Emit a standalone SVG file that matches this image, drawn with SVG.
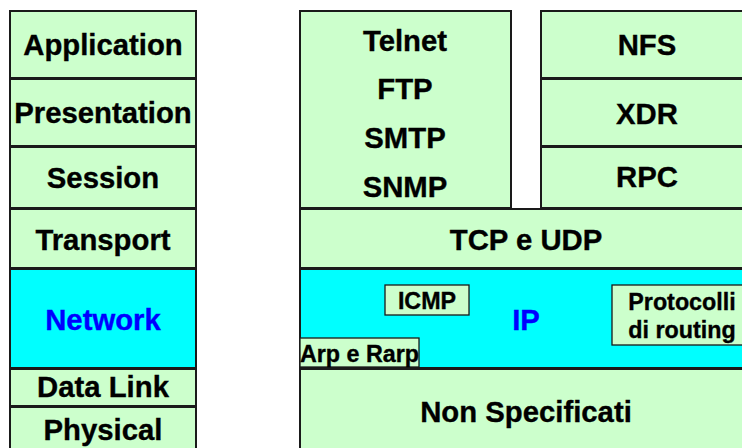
<svg xmlns="http://www.w3.org/2000/svg" width="742" height="448" viewBox="0 0 742 448">
<style>
.b{fill:#ccffcc;stroke:#1a1a1a;stroke-width:2}
.c{fill:#00ffff;stroke:#1a1a1a;stroke-width:2}
.s{fill:#ccffcc;stroke:#1a1a1a;stroke-width:1.3}
text{font-family:"Liberation Sans",Arial,sans-serif;font-weight:bold;text-anchor:middle;fill:#000;stroke:#000;stroke-width:0.35}
.t{font-size:29.3px}
.m{font-size:23.3px}
.bl{fill:#0000ff;stroke:#0000ff}
</style>
<rect width="742" height="448" fill="#fff"/>
<g id="osi-application"><rect class="b" x="10" y="11" width="186" height="67"/><text class="t" x="103" y="55">Application</text></g>
<g id="osi-presentation"><rect class="b" x="10" y="79" width="186" height="67"/><text class="t" x="103" y="123">Presentation</text></g>
<g id="osi-session"><rect class="b" x="10" y="147" width="186" height="61"/><text class="t" x="103" y="188">Session</text></g>
<g id="osi-transport"><rect class="b" x="10" y="209" width="186" height="59"/><text class="t" x="103" y="250">Transport</text></g>
<g id="osi-network"><rect class="c" x="10" y="269" width="186" height="99"/><text class="t bl" x="103" y="330">Network</text></g>
<g id="osi-datalink"><rect class="b" x="10" y="369" width="186" height="37"/><text class="t" x="103" y="397">Data Link</text></g>
<g id="osi-physical"><rect class="b" x="10" y="407" width="186" height="50"/><text class="t" x="103" y="440">Physical</text></g>

<g id="apps"><rect class="b" x="300" y="11" width="211" height="197"/>
<text class="t" x="405" y="51">Telnet</text><text class="t" x="405" y="99">FTP</text><text class="t" x="405" y="148">SMTP</text><text class="t" x="405" y="197">SNMP</text></g>
<g id="nfs"><rect class="b" x="541" y="11" width="220" height="67"/><text class="t" x="647" y="55">NFS</text></g>
<g id="xdr"><rect class="b" x="541" y="79" width="220" height="67"/><text class="t" x="647" y="124">XDR</text></g>
<g id="rpc"><rect class="b" x="541" y="147" width="220" height="61"/><text class="t" x="647" y="187">RPC</text></g>
<g id="tcpudp"><rect class="b" x="300" y="209" width="460" height="59"/><text class="t" x="526" y="250">TCP e UDP</text></g>
<g id="ip"><rect class="c" x="300" y="269" width="460" height="99"/><text class="t bl" x="526" y="330">IP</text></g>
<g id="icmp"><rect class="s" x="385" y="285" width="84" height="30"/><text class="m" x="427" y="309">ICMP</text></g>
<g id="arp"><rect class="s" x="300" y="338" width="119" height="29"/><text class="m" x="359.5" y="362">Arp e Rarp</text></g>
<g id="routing"><rect class="s" x="612" y="285" width="150" height="60"/><text class="m" x="682" y="310">Protocolli</text><text class="m" x="682" y="338">di routing</text></g>
<g id="nonspec"><rect class="b" x="300" y="369" width="460" height="90"/><text class="t" x="526" y="422">Non Specificati</text></g>
<g id="connectors"></g>
</svg>
